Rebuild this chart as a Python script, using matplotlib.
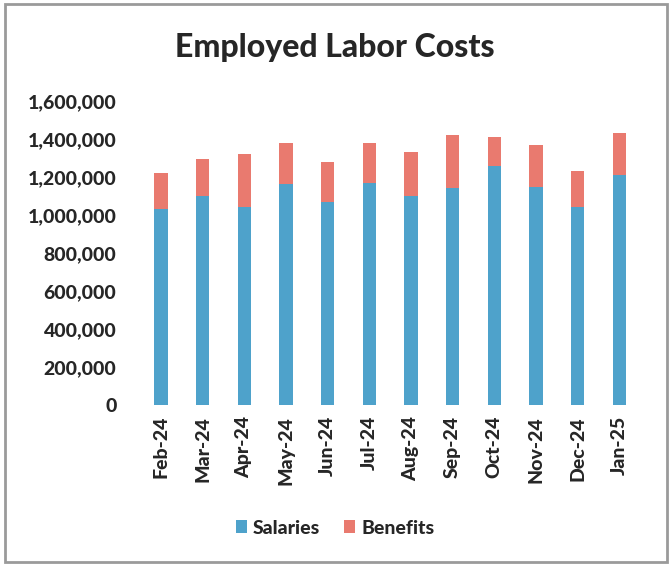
import matplotlib
matplotlib.use("Agg")
import matplotlib.pyplot as plt
from matplotlib.patches import Rectangle
from matplotlib.ticker import FuncFormatter, MultipleLocator

months = ["Feb-24", "Mar-24", "Apr-24", "May-24", "Jun-24", "Jul-24",
          "Aug-24", "Sep-24", "Oct-24", "Nov-24", "Dec-24", "Jan-25"]
salaries = [1030000, 1100000, 1040000, 1165000, 1070000, 1170000,
            1100000, 1140000, 1260000, 1150000, 1040000, 1210000]
benefits = [190000, 195000, 280000, 215000, 210000, 210000,
            230000, 280000, 150000, 220000, 190000, 220000]

blue = "#4EA2CB"
red = "#E97A6F"
text_col = "#262626"
weight = "black"

W, H = 670, 565
fig = plt.figure(figsize=(W / 100, H / 100), dpi=100)
plt.rcParams["font.family"] = ["Lato", "DejaVu Sans"]

# chart frame
fig.patches.append(Rectangle((5 / W, 3 / H), 662 / W, 558 / H, transform=fig.transFigure,
                             fill=False, edgecolor="#9A9A9A", linewidth=2))

ax = fig.add_axes([140 / W, 1 - 405 / H, 500 / W, 304 / H])
x = range(len(months))
ax.bar(x, salaries, width=0.32, color=blue, label="Salaries")
ax.bar(x, benefits, width=0.32, bottom=salaries, color=red, label="Benefits")

ax.set_ylim(0, 1600000)
ax.set_xlim(-0.5, len(months) - 0.5)
ax.yaxis.set_major_locator(MultipleLocator(200000))
ax.yaxis.set_major_formatter(FuncFormatter(lambda v, p: f"{int(v):,}"))
ax.set_xticks(list(x))
ax.set_xticklabels(months, rotation=90)
for lab in ax.get_xticklabels() + ax.get_yticklabels():
    lab.set_fontweight(weight)
    lab.set_fontsize(14)
    lab.set_color(text_col)
ax.tick_params(axis="y", length=0, pad=17)
ax.tick_params(axis="x", length=0, pad=8)
for s in ax.spines.values():
    s.set_visible(False)

fig.text(335 / W, 1 - 48 / H, "Employed Labor Costs", ha="center", va="center",
         fontsize=23, fontweight=weight, color=text_col)

leg = fig.legend(loc="center", bbox_to_anchor=(335 / W, 1 - 528 / H), ncol=2, frameon=False,
                 handlelength=0.6, handleheight=0.6, handletextpad=0.3, columnspacing=1.2,
                 prop={"weight": weight, "size": 14})
for t in leg.get_texts():
    t.set_color(text_col)

fig.savefig("out.png", dpi=100, facecolor="white")
